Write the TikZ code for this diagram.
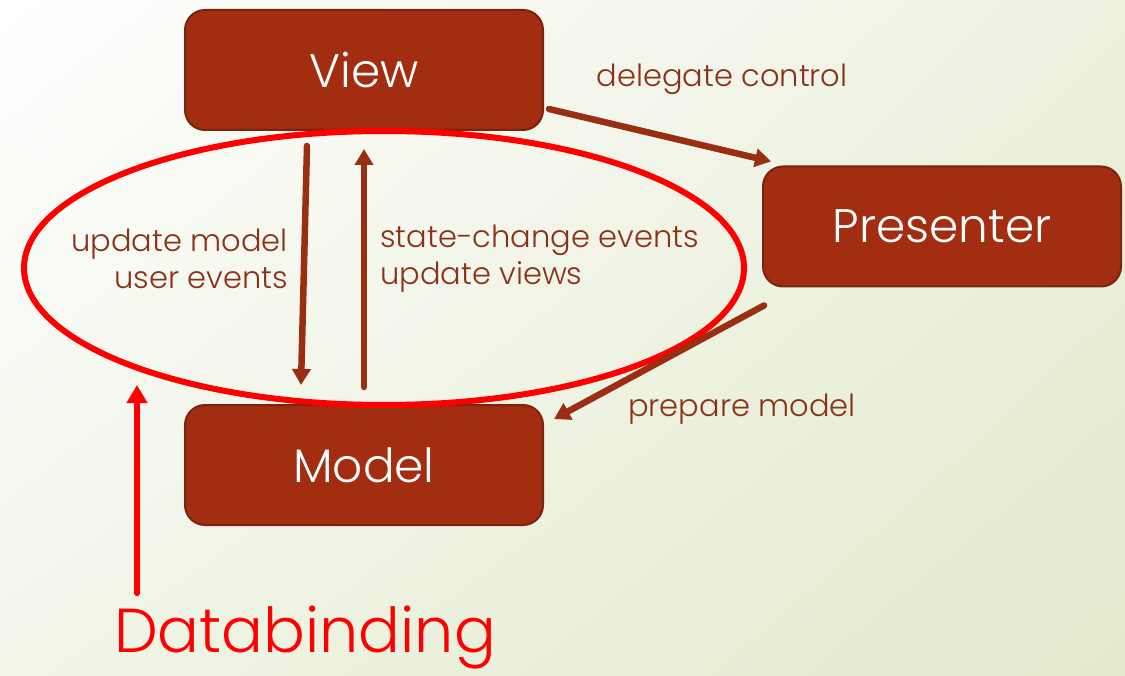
\documentclass[tikz,border=0pt]{standalone}
\usepackage{fontspec}
\setmainfont{Poppins Light}
\usetikzlibrary{arrows.meta,shapes.geometric,shadings,calc}
\definecolor{boxfill}{HTML}{A22D10}
\definecolor{boxline}{HTML}{7A2410}
\definecolor{arrowc}{HTML}{9A2E12}
\definecolor{lblc}{HTML}{8A3218}
\definecolor{bgA}{HTML}{FFFFFF}
\definecolor{bgB}{HTML}{EDF1E0}
\definecolor{bgC}{HTML}{F1F5E8}
\definecolor{bgD}{HTML}{E2E9CC}
\tikzset{
  mvpbox/.style={draw=boxline, line width=2pt, fill=boxfill, rounded corners=20pt,
    minimum width=358pt, minimum height=120pt, text=white, inner sep=0pt,
    font=\fontsize{47}{52}\selectfont},
  arr/.style={draw=arrowc, line width=6.5pt, line cap=round,
    -{Triangle[length=16pt,width=18pt]}},
  lbl/.style={text=lblc, inner sep=0pt, font=\fontsize{30.5}{37}\selectfont},
  redarr/.style={draw=red, line width=6pt, line cap=round,
    -{Triangle[length=18pt,width=20pt]}},
}
\begin{document}
\begin{tikzpicture}[x=1pt,y=-1pt]
\useasboundingbox (0,0) rectangle (1125,676);
\shade[upper left=bgA, upper right=bgB, lower left=bgC, lower right=bgD] (0,0) rectangle (1125,676);

\node[mvpbox] (view) at (364,70) {View};
\node[mvpbox] (presenter) at (942,226.5) {Presenter};
\node[mvpbox] (model) at (364,465) {Model};

\node[ellipse, draw=red, line width=6pt, minimum width=720pt, minimum height=274pt, inner sep=0pt] (bind) at (384,268) {};

\draw[arr] ([xshift=-57pt,yshift=-15pt]view.south) -- ([xshift=-63pt,yshift=19pt]model.north);
\draw[arr] ([yshift=17pt]model.north) -- ([yshift=-18pt]view.south);
\draw[arr] ([xshift=5pt,yshift=22pt]view.south east) -- ([xshift=9pt,yshift=4pt]presenter.north west);
\draw[arr] ([xshift=2pt,yshift=-18pt]presenter.south west) -- ([xshift=10pt,yshift=-15pt]model.north east);

\node[lbl, align=right, anchor=east] (lblL) at (288,259) {update model\\user events};
\node[lbl, align=left, anchor=west] (lblR) at (380,259) {state-change events\\update views};
\node[lbl] (lblD) at (722,79) {delegate control};
\node[lbl] (lblP) at (742,409) {prepare model};

\node[text=red, inner sep=0pt, font=\fontsize{62}{68}\selectfont] (db) at (305,637) {Databinding};
\coordinate (dbtip) at (137,385);
\draw[redarr] ($(db.north west -| dbtip)+(0,-12)$) -- (dbtip);
\end{tikzpicture}
\end{document}
